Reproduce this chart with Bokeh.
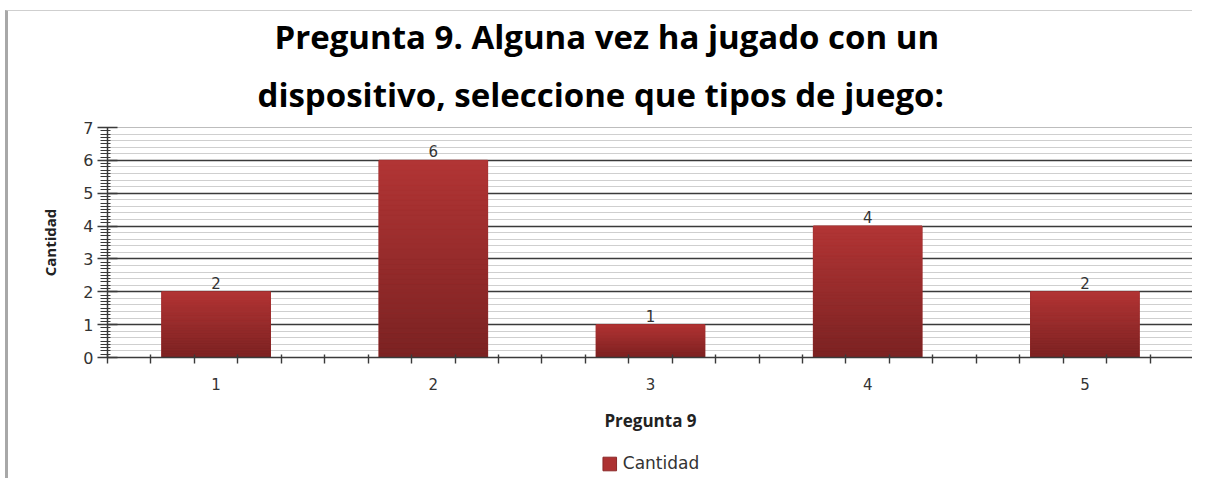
from bokeh.plotting import figure
from bokeh.layouts import column
from bokeh.models import (Title, FixedTicker, SingleIntervalTicker, LinearAxis, Legend,
                          LegendItem, ColumnDataSource, Range1d)
from bokeh.core.properties import value
from bokeh.embed import file_html
from bokeh.resources import INLINE

# ---- data ----
categories = [1, 2, 3, 4, 5]
cantidad = [2, 6, 1, 4, 2]
tick_labels = ["1", "2", "3", "4", "5"]
title_lines = ["Pregunta 9. Alguna vez ha jugado con un",
               "dispositivo, seleccione que tipos de juego:"]
x_title = "Pregunta 9"
y_title = "Cantidad"
series_name = "Cantidad"

TITLE_FONT = "Open Sans"
BODY_FONT = "DejaVu Sans"
BAR_COLOR = "#ad3131"

p = figure(width=1187, height=438, output_backend="svg", toolbar_location=None,
           x_range=Range1d(0.5, len(categories) + 0.5), y_range=Range1d(0, 7),
           min_border_left=99, min_border_right=2, min_border_top=114, min_border_bottom=92)
p.styles = {"border-left": "3px solid #a8a8a8", "border-top": "1px solid #cfcfcf",
            "margin-left": "5px", "margin-top": "10px"}
p.background_fill_color = "white"
p.outline_line_color = "#bdbdbd"
p.outline_line_width = 1

# titles (second line added first so the first line ends on top)
title_offsets = [150, 167]
title_standoffs = [22, 0]
for line, off, so in zip(reversed(title_lines), title_offsets, title_standoffs):
    t = Title(text=line, align="left", offset=off, text_font=TITLE_FONT,
              text_font_size="33px", text_font_style="bold", text_color="black",
              standoff=so, text_line_height=0.73)
    p.add_layout(t, "above")

# grid
p.xgrid.visible = False
p.ygrid.ticker = SingleIntervalTicker(interval=1, num_minor_ticks=5)
p.ygrid.grid_line_color = "#3a3a3a"
p.ygrid.grid_line_width = 1.3
p.ygrid.minor_grid_line_color = "#cfcfcf"
p.ygrid.minor_grid_line_width = 1.2

# y axis
ya = p.yaxis[0]
ya.ticker = SingleIntervalTicker(interval=1, num_minor_ticks=10)
ya.axis_line_color = "#3a3a3a"
ya.axis_line_width = 1.5
ya.major_tick_line_color = "#3a3a3a"
ya.major_tick_line_width = 1.5
ya.major_tick_in = 10
ya.major_tick_out = 10
ya.minor_tick_line_color = "#3a3a3a"
ya.minor_tick_in = 3
ya.minor_tick_out = 7
ya.major_label_standoff = 4
ya.major_label_text_font = BODY_FONT
ya.major_label_text_font_size = "16px"
ya.major_label_text_color = "#333333"
ya.axis_label = y_title
ya.axis_label_text_font = TITLE_FONT
ya.axis_label_text_font_size = "15px"
ya.axis_label_text_font_style = "bold"
ya.axis_label_text_color = "#222222"
ya.axis_label_standoff = 20

# x axis: tick marks only (category boundaries and fifths, no labels)
bounds = [c - 0.5 for c in categories] + [categories[-1] + 0.5]
minor = bounds + [b + k * 0.2 for b in bounds[:-1] for k in range(1, 5)]
xa = p.xaxis[0]
xa.ticker = FixedTicker(ticks=[], minor_ticks=minor)
xa.axis_line_color = "#3a3a3a"
xa.axis_line_width = 1.5
xa.minor_tick_line_color = "#3a3a3a"
xa.minor_tick_line_width = 1.4
xa.minor_tick_in = 3
xa.minor_tick_out = 6

# x axis: labels only
xl = LinearAxis(ticker=FixedTicker(ticks=categories),
                major_label_overrides={c: l for c, l in zip(categories, tick_labels)})
xl.axis_line_color = None
xl.major_tick_line_color = None
xl.minor_tick_line_color = None
xl.major_label_standoff = 8
xl.major_label_text_font = BODY_FONT
xl.major_label_text_font_size = "15px"
xl.major_label_text_color = "#333333"
xl.axis_label = x_title
xl.axis_label_text_font = TITLE_FONT
xl.axis_label_text_font_size = "17px"
xl.axis_label_text_font_style = "bold"
xl.axis_label_text_color = "#222222"
xl.axis_label_standoff = 16
p.add_layout(xl, "below")

# bars: base
src = ColumnDataSource(dict(x=categories, top=cantidad, label=[str(v) for v in cantidad]))
base = p.vbar(x="x", top="top", bottom=0, width=0.5, source=src,
              fill_color=BAR_COLOR, line_color="#9a2a2a", line_width=1)

# gradient overlay (strips as fractions of each bar's value)
N = 40
top_c = (0xB2, 0x35, 0x35)
bot_c = (0x7A, 0x22, 0x22)
gx, gb, gt, gc = [], [], [], []
for c, v in zip(categories, cantidad):
    for i in range(N):
        f = (i + 0.5) / N
        col = tuple(int(round(bot_c[k] + (top_c[k] - bot_c[k]) * f)) for k in range(3))
        gx.append(c)
        gb.append(v * i / N)
        gt.append(v * (i + 1) / N)
        gc.append("#%02x%02x%02x" % col)
p.vbar(x=gx, bottom=gb, top=gt, width=0.5, fill_color=gc, line_color=gc, line_width=0.5)

# data labels
p.text(x="x", y="top", text="label", source=src, text_align="center",
       text_baseline="bottom", y_offset=-3, text_font=value(BODY_FONT),
       text_font_size="15px", text_color="#333333")

# legend in a small strip below the chart (its series renderer is hidden; only the key shows)
lg = figure(width=1187, height=30, output_backend="svg", toolbar_location=None,
            min_border=0, x_range=Range1d(0, 1), y_range=Range1d(0, 1))
lg.styles = {"border-left": "3px solid #a8a8a8", "margin-left": "5px"}
lg.axis.visible = False
lg.grid.visible = False
lg.outline_line_color = None
swatch = lg.vbar(x=categories, top=cantidad, width=0.5, fill_color=BAR_COLOR,
                 line_color="#8a2727", visible=False)
legend = Legend(items=[LegendItem(label=series_name, renderers=[swatch])],
                orientation="horizontal", location="center",
                label_text_font=BODY_FONT, label_text_font_size="17px",
                label_text_color="#333333", glyph_width=17, glyph_height=17,
                border_line_color=None, background_fill_alpha=0,
                inactive_fill_alpha=0,
                padding=2, margin=0, label_standoff=5)
lg.add_layout(legend, "center")

layout = column(p, lg, spacing=0)
open("out.html", "w").write(file_html(layout, INLINE))
